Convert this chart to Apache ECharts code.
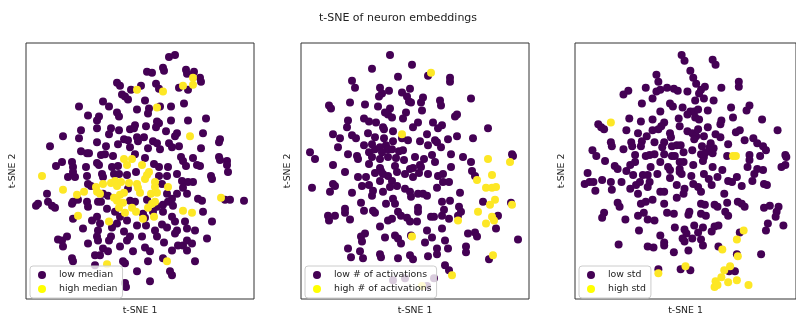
<!DOCTYPE html>
<html>
<head>
<meta charset="utf-8">
<script src="https://cdn.jsdelivr.net/npm/echarts@6/dist/echarts.min.js"></script>
<style>
  html, body { margin: 0; padding: 0; background: #fff; }
  #chart { width: 796px; height: 320px; }
</style>
</head>
<body>
<div id="chart"></div>
<script>
// 2-D t-SNE embedding of neurons, split by three properties.
const figureTitle = 't-SNE of neuron embeddings';
const xAxisName = 't-SNE 1';
const yAxisName = 't-SNE 2';
const xRange = [-57, 57];
const yRange = [-64.5, 64.5];

const panelLabels = [
  ['low median', 'high median'],
  ['low # of activations', 'high # of activations'],
  ['low std', 'high std']
];

// Panel 1: split by median activation
const medianLow = [
  [14.5,57.5],[17.5,58.5],[11.5,52],[12,50.5],[3.5,50],[6,49.5],[23,51],[23.5,49],[27,50],[30,47],
  [30.5,45],[19.5,42],[24,41],[-11.5,44.5],[-10,43],[-4.5,41],[0.5,43],[8,44],[9.5,41.5],[-9,38.5],
  [-7.5,37.5],[-6,36],[2.5,35.5],[-18.5,35],[-30.5,32.5],[-15.5,32.5],[-1.5,31],[4.5,31.5],[4,29],[10,32.5],
  [15.5,32.5],[22,34],[-26,28],[-20.5,27.5],[-21.5,25.5],[-11.5,29.5],[-10.5,27.5],[8.5,25],[9.5,24],[15.5,25.5],
  [24,25.5],[33,26.5],[-29.5,20.5],[-30.5,16.5],[-21.5,21.5],[-14.5,21.5],[-15.5,18.5],[-10.5,20.5],[-5,21],[-2.5,23],
  [-3,21.5],[3,22.5],[8,22],[13,20],[18.5,19],[17.5,17.5],[31.5,19],[40,16],[39.5,14.5],[-38.5,17.5],
  [-45,12.5],[-21.5,14.5],[-17,12.5],[-11,13.5],[-8,16],[-6,15.5],[-5,12],[-1.5,17],[-1,15],[2,17],
  [6.5,15],[8.5,14],[4,11.5],[10,11],[14.5,14],[16,12],[19.5,12.5],[30.5,11.5],[-29.5,10],[-26.5,9],
  [-25.5,9],[-19.5,8],[-17.5,8.5],[-13.5,7.5],[-2.5,8.5],[2.5,6.5],[7,3.5],[9.5,2],[14,2],[20.5,7],
  [21.5,5],[26.5,6.5],[28.5,3],[30,2.5],[39.5,7],[40,5.5],[43.5,5],[43.5,3],[-42,2.5],[-39,4.5],
  [-34,4.5],[-33.5,2],[-27,2],[-21.5,4],[-20.5,3],[-14,2],[-11,2.5],[23,2.5],
  [-36,-3],[-32.5,-3],[-33.5,-0.5],[-26.5,-2.5],[-26,-6.5],[-24.5,-7.5],[-19,-1.5],[-18.5,-3],[-13,-1.5],[-10.5,-1.5],
  [-6.5,-2],[-2,-0.5],[9.5,-2.5],[13.5,-2.5],[18.5,-1.5],[21,-5],[24,-5.5],[26.5,-5.5],[35.5,-2.5],[36,-4],
  [44,-0.5],[11,-6.5],[18.5,-11.5],[21.5,-8.5],[23.5,-11.5],[29,-14],[31,-15],[42.5,-14.5],[45,-14.5],[52,-15],
  [-18.5,-11.5],[-16,-12.5],[-6,-9],[3.5,-14.5],[13.5,-11.5],[16,-14],[-46.5,-11.5],[-52,-17.5],[-51,-16.5],[-46,-15.5],
  [-44,-17.5],[-42.5,-18.5],[-34,-16.5],[-33.5,-15.5],[-31,-14.5],[-26.5,-15.5],[-26,-18],[-21,-15.5],[-19.5,-15.5],[-5,-15],
  [-2.5,-15.5],[8.5,-18],[11.5,-17],[14,-15.5],[16.5,-17.5],[31.5,-20.5],[-16.5,-19],[-12.5,-20.5],[1.5,-21.5],[6.5,-20.5],
  [11.5,-20.5],[-33.5,-24],[-24,-25],[-21.5,-23],[-20,-26.5],[-11.5,-26.5],[-10,-23],[-6.5,-25],[2.5,-23.5],[11,-27],
  [16,-23],[17.5,-25.5],[22.5,-25.5],[36,-25.5],[-28.5,-29],[-21,-30],[-14,-28.5],[-8,-30.5],[-1.5,-27.5],[3,-27.5],
  [7.5,-30],[13.5,-28.5],[18.5,-30],[23.5,-29],[27.5,-30],[-41,-34.5],[-39,-35],[-36.5,-33],[-38.5,-38],[-26,-36.5],
  [-21.5,-33],[-21,-35],[-14.5,-33],[-15.5,-35],[-10,-38],[-6.5,-35],[-5,-33],[-3.5,-40.5],[1,-33],[2.5,-38.5],
  [5,-40.5],[8.5,-33],[12,-36],[16,-40],[17.5,-31.5],[19,-37.5],[21.5,-37.5],[23.5,-35],[23.5,-40],[26,-36.5],
  [33.5,-34],[-18.5,-39],[-16,-40.5],[-34,-44],[-33.5,-45.5],[-22.5,-42.5],[-20,-42.5],[-8.5,-45.5],[-7.5,-46.5],[4,-45.5],
  [11.5,-44],[27.5,-45.5],[-22.5,-47.5],[-1.5,-50.5],[15,-50.5],[16,-52.5],[5,-55.5],[-7.5,-56.5],[-7,-58.5]
];
const medianHigh = [
  [26.5,47],[26.5,43.5],[21.5,43],[-1.5,41],[11.5,40],[8.5,32],[25,17.5],[-8,6],[-4,6],[-6.5,3],
  [1,3],[-49,-2.5],[3.5,-2],[4.5,-0.5],[2.5,-4],[-38.5,-9.5],[-31.5,-12],[-28,-10.5],[-22,-8],[-21.5,-10.5],
  [-20,-11.5],[-18.5,-6.5],[-14.5,-6],[-12.5,-5],[-11.5,-7.5],[-9.5,-5.5],[-5.5,-6],[-1.5,-6.5],[-1,-8.5],[7.5,-5.5],
  [7.5,-8],[14,-8],[-13,-13.5],[-10,-12],[-8,-11],[0,-11],[5.5,-11.5],[8.5,-11],[40.5,-13.5],[-11.5,-15],
  [-8.5,-16],[-10.5,-18.5],[-7.5,-21],[-4,-18.5],[-2,-20.5],[4,-18.5],[6,-16.5],[7.5,-15.5],[21.5,-20],[26,-21],
  [-31,-22.5],[-15.5,-25.5],[1.5,-24],[7,-23],[13.5,-45.5],[-16.5,-47]
];

// Panel 2: split by number of activations
const activLow = [
  [-12.5,58.5],[-1.5,53.5],[6.5,48],[-21.5,51.5],[-8.5,47.5],[17.5,47],[17.5,45],[-31.5,45.5],[-30,42],[-17.5,42],
  [-13,40.5],[-16.5,39],[-18,37.5],[-6.5,39.5],[-2.5,41.5],[-4,37.5],[-3,35],[-2,34.5],[4,37],[3,34.5],
  [12.5,35.5],[13,33],[28,36.5],[-43,33],[-42,31.5],[-32.5,34.5],[-25,33.5],[-18.5,32.5],[-12.5,31.5],[-13.5,28.5],
  [-11.5,27],[-15,29.5],[-4.5,29.5],[3.5,30.5],[20,27.5],[21,28.5],[-6,26.5],[9,24.5],[13.5,23],[11.5,21.5],
  [1.5,24.5],[-1,22],[-33.5,25.5],[-34,22],[-25.5,26.5],[-23,25],[-19.5,24.5],[-16,22],[-15.5,21],[-11,20],
  [-23.5,19],[-6.5,16.5],[-41,18.5],[-37.5,16.5],[-31.5,18],[-29.5,16.5],[-20,17],[-15.5,16.5],[-11,15],[-3.5,15.5],
  [2.5,15],[6,18.5],[10,15.5],[11,14.5],[16.5,16],[21,17.5],[29,16.5],[36.5,21.5],[-25.5,13],[-21.5,13.5],
  [-20,11],[-17.5,12],[-14.5,13],[-13.5,11],[-16.5,9.5],[-11.5,11],[-8,10],[-6,10.5],[6.5,13],[13,12],
  [-38.5,12],[-52.5,9.5],[-50,6],[-33.5,8.5],[-29,7.5],[-28.5,6],[-23,9.5],[-21.5,7],[-17.5,6],[-13.5,7],
  [-9.5,6.5],[-5.5,5.5],[0,7],[4.5,6],[8.5,8],[18,8.5],[24,7],[28,4.5],[48.5,8.5],[49,7.5],
  [-41,3],[-23,3.5],[-17.5,1.5],[-10,2.5],[-2.5,1],[-1,1.5],[2.5,3],[3,2],[10,4.5],[18,2],
  [28.5,0],[-35,-0.5],[-28.5,-3],[-24.5,-3],[-20,-1],[-17,0],[-16,-1.5],[-13.5,-2.5],[-9,-0.5],[-5,-1.5],
  [-1,-3],[2,-1],[6.5,-1.5],[11.5,-2.5],[14,-1.5],[14,-5.5],[17,-5.5],[30,-2.5],[-51.5,-8.5],[-42.5,-10.5],
  [-41,-6.5],[-40,-7.5],[-31.5,-11],[-26.5,-7.5],[-23,-7],[-21.5,-12.5],[-21,-10],[-17.5,-5],[-16,-10.5],[-11.5,-5],
  [-12.5,-8],[-9,-7.5],[-11,-14],[-10,-16.5],[-5,-9],[-2.5,-10.5],[-2,-13],[1.5,-11.5],[4,-11.5],[6,-12.5],
  [11,-8.5],[13.5,-15.5],[17.5,-15],[22.5,-11],[34,-15.5],[48,-16],[-27,-16],[-14.5,-16.5],[-21,-20],[-20,-21],
  [-25.5,-20],[-35,-19],[-35,-21],[-43.5,-22.5],[-40,-22.5],[-43,-25],[-32.5,-24.5],[-13.5,-25],[-11.5,-24],[-8.5,-20.5],
  [-7,-22.5],[-4,-23.5],[-2.5,-25.5],[1,-25.5],[1.5,-18.5],[1.5,-20.5],[8,-23],[9.5,-23],[13.5,-22.5],[14.5,-19.5],
  [17,-24],[22,-18],[23,-20.5],[21.5,-22.5],[41.5,-22.5],[40.5,-29],[-17.5,-28],[6,-30],[13.5,-29],[26.5,-31.5],
  [30,-31],[31,-33],[-2,-32.5],[-25,-31.5],[-27,-33],[-26.5,-35.5],[-15,-33.5],[-10,-32.5],[-8.5,-34],[-7,-36.5],
  [5,-36],[8.5,-33.5],[11,-39],[15,-35],[16.5,-39],[25.5,-38],[25.5,-41],[51.5,-34.5],[-33.5,-39],[-27.5,-40.5],
  [-32,-43.5],[-26,-44],[-17.5,-42],[-17,-43.5],[-8.5,-44],[-2.5,-42.5],[-1,-44.5],[6.5,-43],[11,-42],[37,-44.5],
  [15,-47.5],[17,-50],[-11,-55],[-5,-54],[6,-58],[9.5,-54]
];
const activHigh = [
  [8,49.5],[-6.5,18.5],[36.5,6],[47.5,4.5],[38.5,-2],[31,-4.5],[35.5,-8.5],[38.5,-8.5],[40.5,-8],[37.5,-17],
  [40,-14.5],[48.5,-17],[21.5,-25],[31.5,-20.5],[38.5,-23],[39.5,-25],[35.5,-26.5],[-1.5,-33],[39,-42.5],[18.5,-52.5],
  [3.5,-58]
];

// Panel 3: split by activation standard deviation
const stdLow = [
  [-2,58.5],[-0.5,55.5],[14,56],[15.5,53.5],[2.5,50.5],[4,47],[-15,48.5],[-14,45],[5.5,44],[10,42.5],
  [27.5,45],[27.5,42.5],[18.5,42],[-9.5,42],[-20.5,42],[-29.5,40.5],[-32,38.5],[-15,40],[-13,41],[-6,41.5],
  [-4,40.5],[1,40],[8,41],[7,39],[-17,36.5],[-22.5,34],[-8,34],[-6.5,32.5],[5,35.5],[9.5,36.5],
  [14.5,35.5],[23.5,32],[33,33],[31.5,30.5],[-1.5,32],[-13,30],[2.5,30],[4.5,30],[1,28.5],[6.5,31],
  [11.5,30.5],[5,27],[7,26],[-3.5,26.5],[24.5,27],[39.5,26],[18.5,25.5],[18,23.5],[-29,26.5],[-23,25],
  [-17,26],[-45,23.5],[-43.5,22],[-42,21],[-11,24.5],[-12.5,22.5],[-14,21],[-3,22.5],[-30.5,20.5],[-24.5,19],
  [-17,20.5],[-20,17.5],[-8,19],[-7.5,17],[1,20],[3.5,19],[5.5,17.5],[4.5,16],[6.5,21],[11.5,22],
  [9.5,17.5],[15.5,18.5],[18,17],[26,19.5],[28,20.5],[47.5,20.5],[30.5,15.5],[35,16.5],[37,14],[-38.5,14.5],
  [-38,12.5],[-32,11],[-28,14.5],[-27.5,12.5],[-22.5,15],[-23,12.5],[-16,14.5],[-11,14.5],[-12,12],[-48,10.5],
  [-46,7.5],[-7,12.5],[-4.5,13],[-2.5,13],[3.5,10.5],[8.5,12.5],[13,14],[12.5,12],[14.5,11.5],[22,13.5],
  [40,12.5],[41.5,10.5],[-26,8],[-20.5,7.5],[-18.5,8],[-16,8.5],[-11,8.5],[-7,7.5],[-5.5,7.5],[-1,9.5],
  [8,8.5],[9.5,7],[10.5,9.5],[14,9],[21.5,7.5],[33,8],[33,5.5],[38.5,7.5],[51.5,8],[52,7],
  [-41.5,5],[-26,4.5],[-28.5,3],[-13,4.5],[-3,4.5],[-1,4.5],[9,5],[4,3],[-36.5,2.5],[-35,1],
  [-30.5,0],[-18,2],[-9,2],[-8,0.5],[-3,1],[14,2],[19,0.5],[32,2],[37,1],[40,0.5],
  [49.5,2],[51.5,3],[-50.5,-1],[-52,-6.5],[-49.5,-5.5],[-47.5,-5.5],[-46.5,-10],[-43,-4.5],[-38.5,-5.5],[-38,-9.5],
  [-33,-5.5],[-27,-2],[-28.5,-9],[-25.5,-7],[-23.5,-5.5],[-24.5,-11.5],[-22,-2],[-19.5,-2],[-18.5,-5.5],[-19.5,-8],
  [-14.5,-1.5],[-13,-10.5],[-11,-10.5],[-8,-3.5],[-3,-0.5],[-2,-1.5],[-4.5,-7],[-0.5,-9],[-1,-11.5],[-4.5,-13.5],
  [3,-2.5],[4,-6.5],[6.5,-8],[8,-10.5],[9.5,-1.5],[12,-4],[13.5,-7],[16.5,-3],[22,-5],[24,-5.5],
  [26.5,-3],[29,-7.5],[34.5,-5],[35.5,-1.5],[40.5,-6.5],[42,-7],[20,-11.5],[-17,-14.5],[-11,-16.5],[-23,-16.5],
  [-20.5,-15.5],[-35,-16],[-34,-18],[8,-16.5],[10,-17],[15,-17],[16.5,-18],[21.5,-16],[27,-15.5],[29,-16.5],
  [30.5,-18],[40.5,-18.5],[43.5,-17.5],[48,-18],[-42,-21],[-43,-23.5],[-31,-24.5],[-24.5,-22.5],[-21.5,-21],[-19.5,-24.5],
  [-16,-25],[-9.5,-21],[-6,-21.5],[2,-20.5],[1.5,-22],[8,-21.5],[10.5,-22.5],[20.5,-20.5],[22,-22.5],[47,-20.5],
  [46.5,-23],[50.5,-27.5],[42.5,-26.5],[41.5,-30],[-24,-30],[-5.5,-28.5],[-0.5,-29.5],[0.5,-31.5],[-1.5,-34],[-0.5,-35.5],
  [3.5,-34],[4.5,-27.5],[6.5,-31],[9,-28.5],[8,-34.5],[9,-37.5],[13.5,-30.5],[15,-28],[17,-27.5],[28,-31],
  [-13,-32.5],[-11,-36],[-11,-37.5],[-34.5,-37],[-19.5,-38],[-16.5,-38.5],[-6,-41],[1.5,-40],[17,-38],[26.5,-42],
  [39,-42],[-14,-49.5],[-2.5,-49.5],[2.5,-50],[22.5,-50.5],[25.5,-50.5]
];
const stdHigh = [
  [-38.5,24.5],[24.5,7.5],[26,7.5],[30,-30],[26.5,-34.5],[19,-39.5],[27,-43],[-14,-51.5],[0,-48],[23,-48],
  [20,-50],[18.5,-53.5],[15.5,-55.5],[15,-58.5],[16.5,-57.5],[22,-56],[26.5,-55],[32.5,-57.5]
];

const panelData = [
  [medianLow, medianHigh],
  [activLow, activHigh],
  [stdLow, stdHigh]
];

const LOW_COLOR = '#440154';
const HIGH_COLOR = '#fde725';
const HIGH_LEGEND_COLOR = '#ffff00';
const FONT = 'DejaVu Sans';

const gridLefts = [26, 301, 575];
const legendLefts = [30, 305, 579];

const grids = [], xAxes = [], yAxes = [], series = [], legends = [];

gridLefts.forEach((left, i) => {
  grids.push({
    left: left, top: 43, width: 228, height: 258,
    show: true, borderColor: '#333', borderWidth: 1, backgroundColor: 'transparent'
  });
  xAxes.push({
    type: 'value', gridIndex: i, min: xRange[0], max: xRange[1],
    name: xAxisName, nameLocation: 'middle', nameGap: 7,
    nameTextStyle: { fontFamily: FONT, fontSize: 9.3, color: '#222' },
    axisLine: { show: false }, axisTick: { show: false },
    axisLabel: { show: false }, splitLine: { show: false }
  });
  yAxes.push({
    type: 'value', gridIndex: i, min: yRange[0], max: yRange[1],
    name: yAxisName, nameLocation: 'middle', nameGap: 9,
    nameTextStyle: { fontFamily: FONT, fontSize: 9.3, color: '#222' },
    axisLine: { show: false }, axisTick: { show: false },
    axisLabel: { show: false }, splitLine: { show: false }
  });
  const [lowName, highName] = panelLabels[i];
  const [lowPts, highPts] = panelData[i];
  series.push({
    type: 'scatter', name: lowName, xAxisIndex: i, yAxisIndex: i,
    data: lowPts, symbolSize: 8, itemStyle: { color: LOW_COLOR, opacity: 1 },
    emphasis: { disabled: true }, animation: false
  });
  series.push({
    type: 'scatter', name: highName, xAxisIndex: i, yAxisIndex: i,
    data: highPts, symbolSize: 8, itemStyle: { color: HIGH_COLOR, opacity: 1 },
    emphasis: { disabled: true }, animation: false
  });
  legends.push({
    data: [
      { name: lowName, icon: 'circle', itemStyle: { color: LOW_COLOR } },
      { name: highName, icon: 'circle', itemStyle: { color: HIGH_LEGEND_COLOR } }
    ],
    orient: 'vertical', left: legendLefts[i], top: 266,
    itemWidth: 8, itemHeight: 8, itemGap: 2,
    padding: [3, 5, 3, 8],
    backgroundColor: 'rgba(255,255,255,0.8)',
    borderColor: '#ccc', borderWidth: 1, borderRadius: 3,
    selectedMode: false,
    textStyle: {
      fontFamily: FONT, fontSize: 9.4, color: '#222', lineHeight: 12,
      padding: [0, 0, 0, 8]
    },
    z: 10
  });
});

const chart = echarts.init(document.getElementById('chart'), null, { renderer: 'canvas' });
chart.setOption({
  animation: false,
  backgroundColor: '#fff',
  title: {
    text: figureTitle, left: 'center', top: 8,
    textStyle: { fontFamily: FONT, fontSize: 11, fontWeight: 'normal', color: '#222' }
  },
  grid: grids,
  xAxis: xAxes,
  yAxis: yAxes,
  legend: legends,
  series: series
});
</script>
</body>
</html>
